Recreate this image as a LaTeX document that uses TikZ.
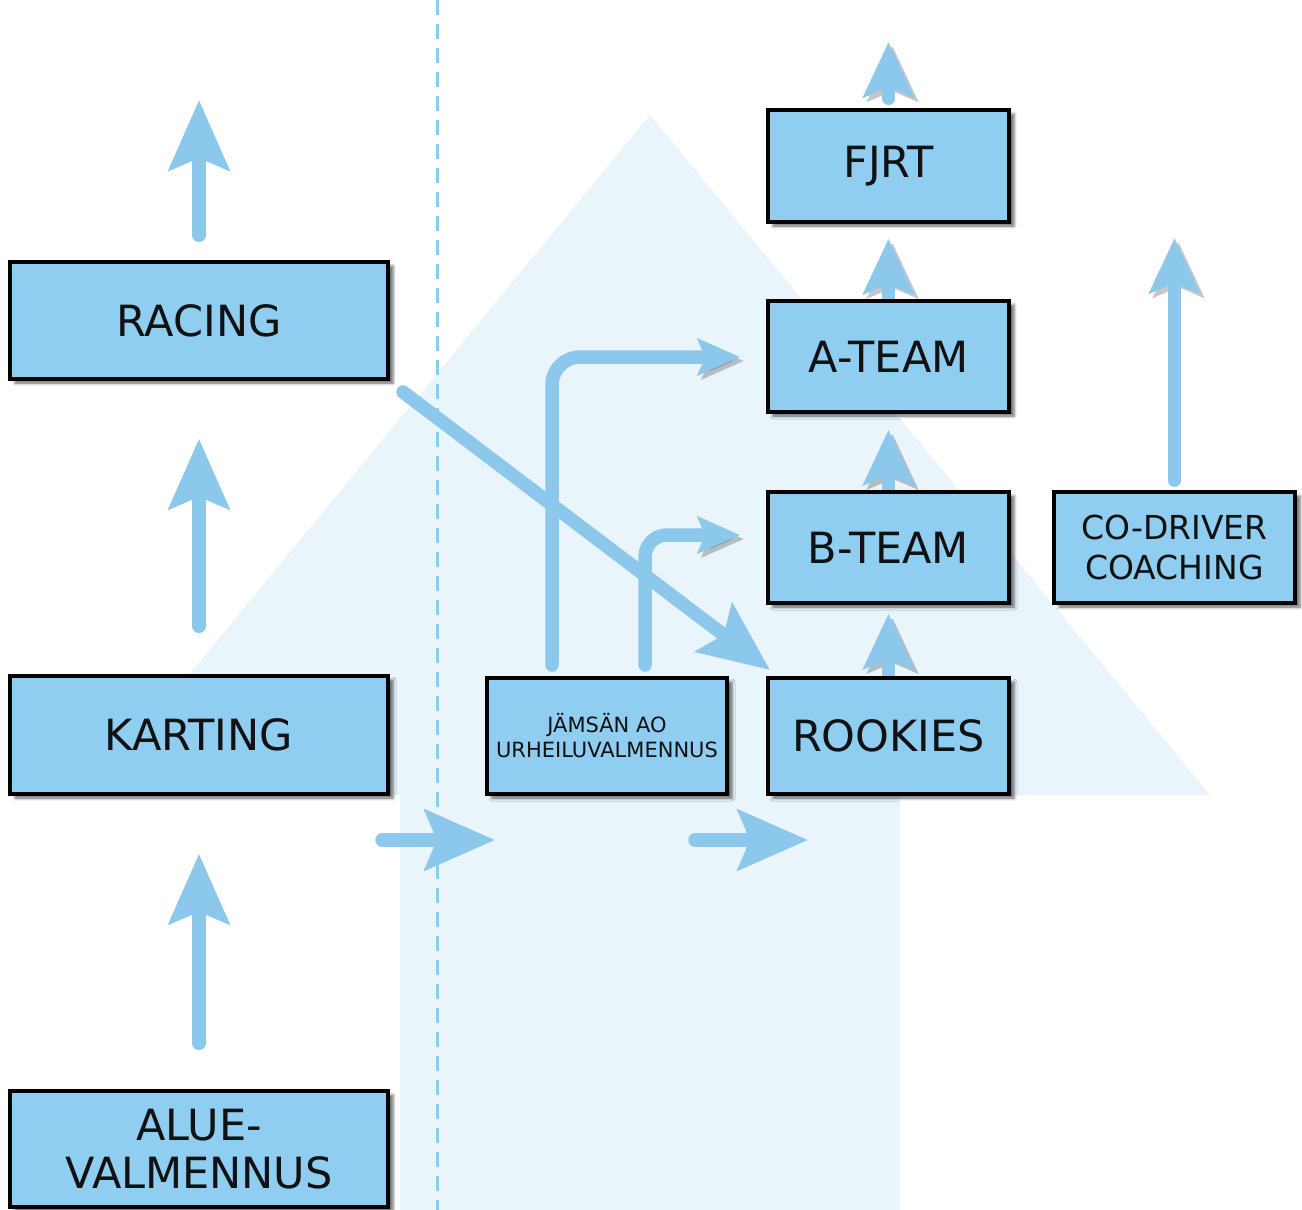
\documentclass[tikz,border=0pt]{standalone}
\usepackage{fontspec}
\setmainfont{DejaVu Sans}
\usetikzlibrary{arrows.meta,shadows.blur}
\definecolor{boxblue}{HTML}{8FCDF1}
\definecolor{arrblue}{HTML}{8CC7EC}
\definecolor{bgblue}{HTML}{EAF4FB}
\definecolor{dashblue}{HTML}{8ACBF0}
\definecolor{txt}{HTML}{111111}
\pgfdeclarelayer{bg}
\pgfdeclarelayer{arrlayer}
\pgfsetlayers{bg,arrlayer,main}
\begin{document}
\begin{tikzpicture}[x=1pt,y=-1pt,
  box/.style={draw=black, line width=3.5pt, fill=boxblue, text=txt, align=center,
    inner sep=0pt, minimum width=241pt, minimum height=111pt,
    blur shadow={shadow xshift=5pt, shadow yshift=-4pt, shadow blur radius=3pt, shadow opacity=60}},
  bigfont/.style={font=\fontsize{43}{48}\selectfont},
  arr/.style={draw=arrblue, line width=13.5pt, line cap=round,
    preaction={draw=black, opacity=0.22, transform canvas={xshift=4pt,yshift=-4pt}}},
  bighead/.style={-{Stealth[length=70pt,width=60pt,inset=12pt]}},
  midhead/.style={-{Stealth[length=55pt,width=50pt,inset=10pt]}},
  smallhead/.style={-{Stealth[length=42pt,width=36pt,inset=7pt]}}
]
\useasboundingbox (0,0) rectangle (1302,1210);

% boxes
\node[box, bigfont, minimum width=378pt, minimum height=117pt] (racing) at (199,320.5) {RACING};
\node[box, bigfont, minimum width=378pt, minimum height=118pt] (karting) at (199,735) {KARTING};
\node[box, bigfont, minimum width=378pt, minimum height=116pt] (alue) at (199,1149) {ALUE-\\VALMENNUS};
\node[box, bigfont, minimum height=112pt] (fjrt) at (888.5,166) {FJRT};
\node[box, bigfont] (ateam) at (888.5,356.5) {A-TEAM};
\node[box, bigfont] (bteam) at (888.5,547.5) {B-TEAM};
\node[box, bigfont, minimum height=116pt] (rookies) at (888.5,736) {ROOKIES};
\node[box, font=\fontsize{21}{25}\selectfont, minimum width=240pt, minimum height=116pt] (jamsan) at (607,736) {JÄMSÄN AO\\URHEILUVALMENNUS};
\node[box, font=\fontsize{33}{40}\selectfont] (codr) at (1174.5,547.5) {CO-DRIVER\\COACHING};

% coordinates for free ends
\coordinate (racetip) at (199,100);
\coordinate (fjrttip) at (888.5,42);
\coordinate (cotip) at (1174.5,238);
\coordinate (h1s) at (382,840);
\coordinate (h1e) at (495,840);
\coordinate (h2s) at (695,840);
\coordinate (h2e) at (808,840);
\coordinate (d1) at (403,392);
\coordinate (d2) at (770,670);
\coordinate (l1s) at (552,665);
\coordinate (l1e) at (740,357);
\coordinate (l2s) at (645,665);
\coordinate (l2e) at (740,535);

\begin{pgfonlayer}{bg}
\fill[bgblue] (90,795) -- (650,115) -- (1210,795) -- cycle;
\fill[bgblue] (400,795) rectangle (900,1215);
\draw[dashblue, line width=3pt, dash pattern=on 15pt off 9pt] (437,0) -- (437,1210);
\end{pgfonlayer}

\begin{pgfonlayer}{arrlayer}
\draw[arr,bighead,shorten <=25pt] (racing.north) -- (racetip);
\draw[arr,bighead,shorten <=48pt,shorten >=58pt] (karting.north) -- (racing.south);
\draw[arr,bighead,shorten <=46pt,shorten >=58pt] (alue.north) -- (karting.south);
\draw[arr,midhead,shorten <=10pt] (fjrt.north) -- (fjrttip);
\draw[arr,midhead,shorten <=3pt,shorten >=15pt] (ateam.north) -- (fjrt.south);
\draw[arr,midhead,shorten <=2pt,shorten >=16pt] (bteam.north) -- (ateam.south);
\draw[arr,midhead,shorten <=3pt,shorten >=9pt] (rookies.north) -- (bteam.south);
\draw[arr,midhead,shorten <=10pt] (codr.north) -- (cotip);
\draw[arr,bighead] (h1s) -- (h1e);
\draw[arr,bighead] (h2s) -- (h2e);
\draw[arr,smallhead, rounded corners=28pt] (l1s) |- (l1e);
\draw[arr,smallhead, rounded corners=22pt] (l2s) |- (l2e);
\draw[arr,bighead] (d1) -- (d2);
\end{pgfonlayer}
\end{tikzpicture}
\end{document}
